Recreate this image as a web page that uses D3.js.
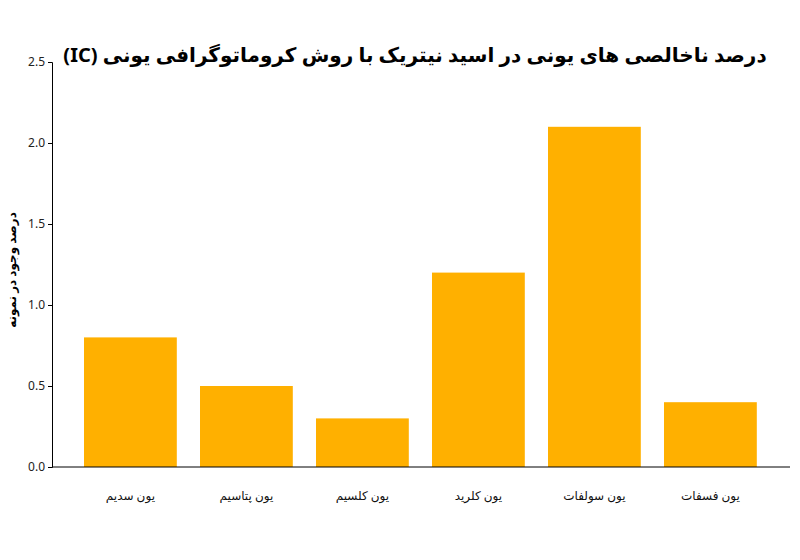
<!DOCTYPE html>
<html><head><meta charset="utf-8">
<script src="https://cdn.jsdelivr.net/npm/d3@7"></script>
<style>body{margin:0;background:#fff}</style>
</head><body>
<svg id="c" width="800" height="560"></svg>
<script>
const categories = ["یون سدیم", "یون پتاسیم", "یون کلسیم", "یون کلرید", "یون سولفات", "یون فسفات"];
const values = [0.8, 0.5, 0.3, 1.2, 2.1, 0.4];
const yTicks = [0, 0.5, 1.0, 1.5, 2.0, 2.5];

const svg = d3.select("#c");
const font = "'Noto Sans', 'DejaVu Sans', sans-serif";

x = d3.scaleBand().domain(categories).range([72.4, 768.4]).paddingInner(0.2).paddingOuter(0.1);
y = d3.scaleLinear().domain([0, 2.5]).range([467, 62]);

svg.selectAll(".bar")
    .data(values)
    .join("rect")
    .attr("class", "bar")
    .attr("x", (d, i) => x(categories[i]))
    .attr("width", x.bandwidth())
    .attr("y", d => y(d))
    .attr("height", d => y(0) - y(d))
    .attr("fill", "#FFB000");

yAxis = svg.append("g").attr("transform", "translate(52,0)")
    .call(d3.axisLeft(y).tickValues(yTicks).tickFormat(d3.format(".1f")).tickSize(4));
yAxis.selectAll("text").style("font-family", font).style("font-size", "12px").attr("fill", "#222");

xAxis = svg.append("g").attr("transform", "translate(0,467)")
    .call(d3.axisBottom(x).tickSize(0).tickPadding(24));
xAxis.select(".domain").attr("d", "M52,0H790");
xAxis.selectAll("text").style("font-family", font).style("font-size", "12px").attr("fill", "#111");

svg.append("text")
    .attr("x", 415).attr("y", 62)
    .attr("text-anchor", "middle")
    .attr("direction", "rtl")
    .style("font-family", font).style("font-size", "20px").style("font-weight", "bold")
    .text("درصد ناخالصی های یونی در  اسید نیتریک با روش کروماتوگرافی یونی (IC)");

svg.append("text")
    .attr("transform", "translate(16,270) rotate(-90)")
    .attr("text-anchor", "middle")
    .style("font-family", font).style("font-size", "12px").style("font-weight", "bold")
    .text("درصد وجود در نمونه");
</script>
</body></html>
